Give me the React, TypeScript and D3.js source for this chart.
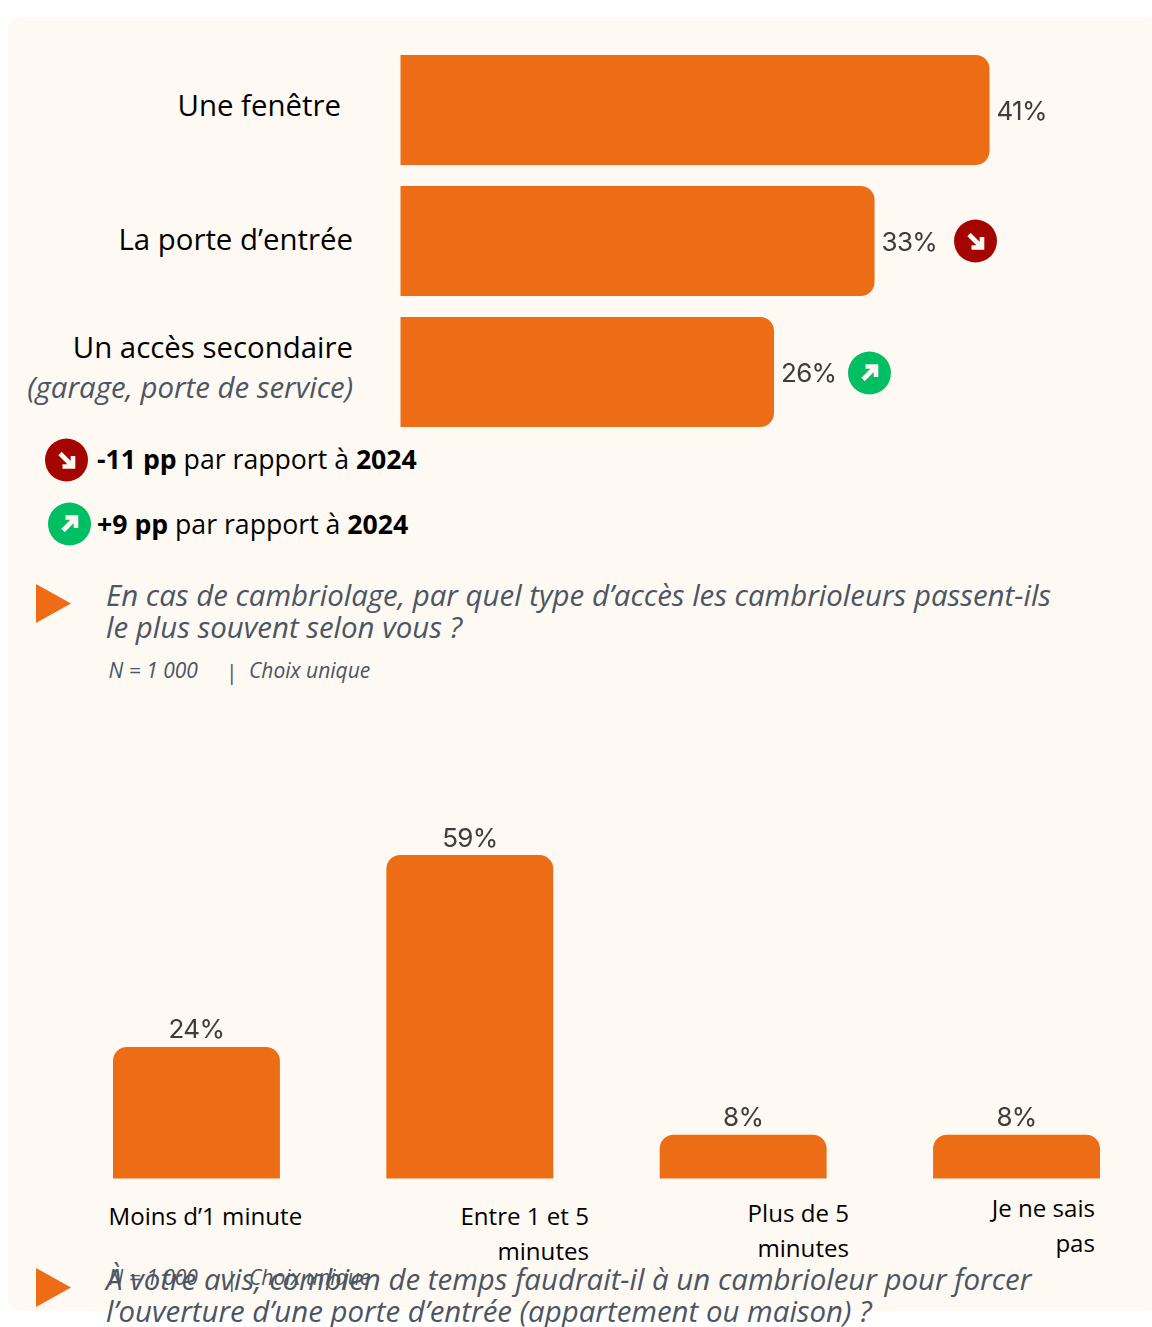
import React from "react";
import * as d3 from "d3";

const accessCategories = ["Une fenêtre", "La porte d’entrée", "Un accès secondaire"];
const accessValues = [41, 33, 26];
const accessTrends = [0, -1, 1];
const timeCategories = [["Moins d’1 minute"], ["Entre 1 et 5", "minutes"], ["Plus de 5", "minutes"], ["Je ne sais", "pas"]];
const timeValues = [24, 59, 8, 8];

const W = 1152, H = 1327;
const ORANGE = "#ED6C15", RED = "#A50500", GREEN = "#00BE62", BG = "#FEF9F3", GREY = "#4B5563", VAL = "#3C3C3C";
const SANS = "'Open Sans', sans-serif";
const VALF = "Inter, sans-serif";

const x = d3.scaleLinear().domain([0, 41]).range([400.5, 989.5]);
const yBand = d3.scaleBand().domain(accessCategories).range([55, 427]).paddingInner(21 / 131).paddingOuter(0);
const vx = d3.scaleBand().domain(timeCategories.map((c) => c.join(" "))).range([113, 1100]).paddingInner(106.5 / 273.5).paddingOuter(0);
const vy = d3.scaleLinear().domain([0, 59]).range([1178.5, 855]);

function rightRounded(x0: number, x1: number, y0: number, y1: number, r: number) {
  const p = d3.path();
  p.moveTo(x0, y0); p.lineTo(x1 - r, y0); p.arcTo(x1, y0, x1, y0 + r, r); p.lineTo(x1, y1 - r); p.arcTo(x1, y1, x1 - r, y1, r); p.lineTo(x0, y1); p.closePath();
  return p.toString();
}
function topRounded(x0: number, x1: number, y0: number, y1: number, r: number) {
  const p = d3.path();
  p.moveTo(x0, y1); p.lineTo(x0, y0 + r); p.arcTo(x0, y0, x0 + r, y0, r); p.lineTo(x1 - r, y0); p.arcTo(x1, y0, x1, y0 + r, r); p.lineTo(x1, y1); p.closePath();
  return p.toString();
}

function Trend({ cx, cy, dir }: { cx: number; cy: number; dir: number }) {
  const up = dir > 0;
  return (
    <g transform={`translate(${cx},${cy})${up ? " scale(1,-1)" : ""}`}>
      <circle r={21.5} fill={up ? GREEN : RED} />
      <path d="M-6.5,-6.5L5.5,5.5M6.5,-4V6.5H-4" fill="none" stroke="#FEF9F3" strokeWidth={4.6} />
    </g>
  );
}

function Question({ y, lines }: { y: number; lines: string[] }) {
  return (
    <g>
      <path d={`M36,${y}L71,${y + 19.5}L36,${y + 39}Z`} fill={ORANGE} />
      {lines.map((l, i) => (
        <text key={i} x={106} y={y + 22 + i * 32} fontFamily={SANS} fontStyle="italic" fontSize={29.45} fill={GREY}>{l}</text>
      ))}
    </g>
  );
}
function Meta({ y }: { y: number }) {
  return (
    <g fontFamily={SANS} fontStyle="italic" fontSize={21} fill={GREY}>
      <text x={108.5} y={y}>N = 1 000</text>
      <text x={226} y={y + 2} fontStyle="normal">|</text>
      <text x={249} y={y}>Choix unique</text>
    </g>
  );
}

export default function App() {
  return (
    <svg width={W} height={H} style={{ position: "absolute", left: 0, top: 0 }}>
      <defs>
        <filter id="soft" x="-5%" y="-5%" width="110%" height="110%"><feGaussianBlur stdDeviation={0.5} /></filter>
      </defs>
      <rect width={W} height={H} fill="#fff" />
      <rect x={8} y={17} width={W} height={1294} rx={13} fill={BG} />

      <g fill={ORANGE} filter="url(#soft)">
        {accessCategories.map((c, i) => (
          <path key={c} d={rightRounded(x(0), x(accessValues[i]), yBand(c)!, yBand(c)! + yBand.bandwidth(), 14)} />
        ))}
        {timeCategories.map((c, i) => {
          const k = c.join(" ");
          return <path key={k} d={topRounded(vx(k)!, vx(k)! + vx.bandwidth(), vy(timeValues[i]), vy(0), 14)} />;
        })}
      </g>

      <g fontFamily={VALF} fontSize={26} letterSpacing={-0.7} fill={VAL} filter="url(#soft)">
        {accessCategories.map((c, i) => (
          <text key={c} x={x(accessValues[i]) + 7} y={yBand(c)! + 65}>{accessValues[i]}%</text>
        ))}
        {timeCategories.map((c, i) => {
          const k = c.join(" ");
          return <text key={k} x={vx(k)! + vx.bandwidth() / 2} y={vy(timeValues[i]) - 8.5} textAnchor="middle">{timeValues[i]}%</text>;
        })}
      </g>

      <g fontFamily={SANS} fontSize={29.4} fill="#000">
        <text x={341} y={116} textAnchor="end">{accessCategories[0]}</text>
        <text x={353} y={250} textAnchor="end">{accessCategories[1]}</text>
        <text x={353} y={358} textAnchor="end">{accessCategories[2]}</text>
        <text x={353} y={398} textAnchor="end" fontStyle="italic" fill={GREY}>(garage, porte de service)</text>
      </g>

      {accessValues.map((v, i) => accessTrends[i] !== 0 && (
        <Trend key={i} cx={i === 1 ? 975.5 : 869.5} cy={i === 1 ? 241 : 373} dir={accessTrends[i]} />
      ))}

      <Trend cx={66.5} cy={460} dir={-1} />
      <Trend cx={69.5} cy={524} dir={1} />
      <g fontFamily={SANS} fontSize={26.65} fill="#000">
        <text x={97} y={469}><tspan fontWeight={700}>-11 pp</tspan> par rapport à <tspan fontWeight={700}>2024</tspan></text>
        <text x={97} y={534}><tspan fontWeight={700}>+9 pp</tspan> par rapport à <tspan fontWeight={700}>2024</tspan></text>
      </g>

      <Question y={584} lines={["En cas de cambriolage, par quel type d’accès les cambrioleurs passent-ils", "le plus souvent selon vous ?"]} />
      <Meta y={678} />

      <g fontFamily={SANS} fontSize={24.1} fill="#000">
        <text x={108.5} y={1225}>{timeCategories[0][0]}</text>
        <text x={589} y={1225} textAnchor="end">{timeCategories[1][0]}</text>
        <text x={589} y={1260} textAnchor="end">{timeCategories[1][1]}</text>
        <text x={849} y={1222} textAnchor="end">{timeCategories[2][0]}</text>
        <text x={849} y={1257} textAnchor="end">{timeCategories[2][1]}</text>
        <text x={1095} y={1217} textAnchor="end">{timeCategories[3][0]}</text>
        <text x={1095} y={1252} textAnchor="end">{timeCategories[3][1]}</text>
      </g>

      <Question y={1268} lines={["À votre avis, combien de temps faudrait-il à un cambrioleur pour forcer", "l’ouverture d’une porte d’entrée (appartement ou maison) ?"]} />
      <Meta y={1285} />
    </svg>
  );
}
